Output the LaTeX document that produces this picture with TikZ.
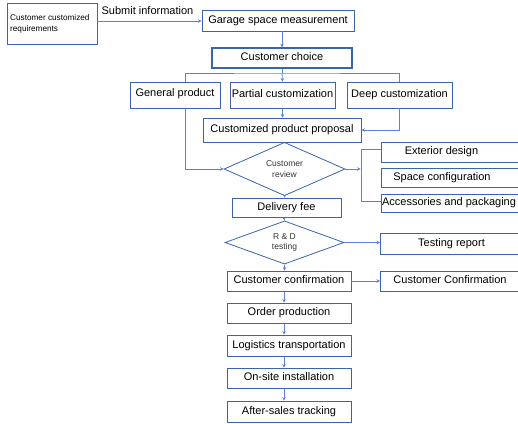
\documentclass[tikz,border=0pt]{standalone}
\usepackage{fontspec}
\setmainfont{Liberation Sans}
\usetikzlibrary{shapes.geometric,arrows.meta,calc}
\definecolor{boxc}{HTML}{3B64AD}
\definecolor{linec}{HTML}{5B84CF}
\tikzset{
  box/.style={draw=boxc,line width=0.8pt,rectangle,inner sep=0pt,font=\fontsize{11}{13}\selectfont,text=black,text height=8pt,text depth=2.3pt},
  rbox/.style={box,minimum width=140pt,anchor=west},
  dia/.style={draw=boxc,line width=0.8pt,diamond,inner sep=0pt,font=\fontsize{8.5}{10.5}\selectfont,align=center,text=black!80},
  conn/.style={draw=linec,line width=0.8pt},
  arr/.style={conn,-{Stealth[length=3.5pt,width=3.5pt]}},
  lbl/.style={font=\fontsize{11}{13}\selectfont,inner sep=0pt,text height=8pt,text depth=2.3pt}
}
\begin{document}
\begin{tikzpicture}[x=1pt,y=-1pt]
\useasboundingbox (0,0) rectangle (518,423);
% main nodes
\node[box,minimum width=90pt,minimum height=41pt] (req) at (52,23.5) {};
\node[inner sep=0pt,font=\fontsize{8.2}{10.5}\selectfont,align=left,anchor=north west] (reqtxt) at (10,14.5) {Customer customized\\requirements};
\node[box,minimum width=152pt,minimum height=21pt] (garage) at (278,20.5) {Garage space measurement};
\node[lbl] (submit) at (147.5,12) {Submit information};
\node[box,line width=1.4pt,minimum width=140pt,minimum height=20pt] (choice) at (282,58) {Customer choice};
\node[box,minimum width=90pt,minimum height=26pt] (general) at (175,95) {\raisebox{1.5pt}{General product}};
\node[box,minimum width=105pt,minimum height=26pt] (partial) at (282.5,95) {Partial customization};
\node[box,minimum width=105pt,minimum height=26pt] (deep) at (399.5,95) {Deep customization};
\node[box,minimum width=158pt,minimum height=24pt] (proposal) at (282,130) {Customized product proposal};
\node[dia,minimum width=121pt,minimum height=30pt] (review) at (284.5,169) {Customer\\review};
\node[box,minimum width=109pt,minimum height=19pt] (delivery) at (286.5,207.5) {Delivery fee};
\node[dia,minimum width=119pt,minimum height=31pt] (rd) at (284.5,242.5) {R \& D\\testing};
\node[box,minimum width=124pt,minimum height=20pt] (confirm) at (289,281) {Customer confirmation};
\node[box,minimum width=124pt,minimum height=20pt] (order) at (289,313) {Order production};
\node[box,minimum width=124pt,minimum height=21pt] (logistics) at (289,345.5) {Logistics transportation};
\node[box,minimum width=124pt,minimum height=20pt] (onsite) at (289,378) {On-site installation};
\node[box,minimum width=124pt,minimum height=21pt] (after) at (289,411.5) {After-sales tracking};
% right side boxes
\node[rbox,minimum height=20pt] (ext) at (381,152) {};
\node[lbl] (exttxt) at (441.5,152) {Exterior design};
\node[rbox,minimum height=19pt] (space) at (381,177.5) {};
\node[lbl] (spacetxt) at (442,177.5) {Space configuration};
\node[rbox,minimum height=18pt] (acc) at (381,203) {};
\node[lbl] (acctxt) at (449,203) {Accessories and packaging};
\node[rbox,minimum height=21pt] (testing) at (380,243.5) {};
\node[lbl] (testtxt) at (451.5,243.5) {Testing report};
\node[rbox,minimum height=20pt] (conf2) at (380,281) {};
\node[lbl] (conf2txt) at (450,281) {Customer Confirmation};
% spine coordinates
\coordinate (sp) at (284,0);
\coordinate (br) at (282,73);
\coordinate (bt) at (361,149);
\coordinate (bb) at (361,201);
\coordinate (bm) at (361,169);
% connectors
\draw[arr] (req.east |- 0,21) -- (garage.west |- 0,21);
\draw[arr] (garage.south -| choice.north) -- (choice.north);
\draw[conn] (choice.south) -- (br);
\draw[conn] (general.north -| 185,0) |- (br) -| (deep.north -| 399.5,0);
\draw[arr] (br) -- (partial.north);
\draw[arr] (partial.south) -- (proposal.north -| partial.south);
\draw[arr] (deep.south) |- (proposal.east);
\draw[arr] (general.south -| 185,0) |- (review.west);
\draw[arr] (review.east) -- ($(bm)+(-0.4,0)$);
\draw[conn] (ext.west |- bt) -- (bt) -- (bb) -- (acc.west |- bb);
\draw[arr] (review.south) -- (delivery.north -| review.south);
\draw[arr] (delivery.south -| sp) -- (rd.north);
\draw[arr] (rd.east) -- (testing.west |- rd.east);
\draw[arr] (rd.south) -- (confirm.north -| rd.south);
\draw[arr] (confirm.east) -- (conf2.west);
\draw[arr] (confirm.south -| sp) -- (order.north -| sp);
\draw[arr] (order.south -| sp) -- (logistics.north -| sp);
\draw[arr] (logistics.south -| sp) -- (onsite.north -| sp);
\draw[arr] (onsite.south -| sp) -- (after.north -| sp);
\end{tikzpicture}
\end{document}
